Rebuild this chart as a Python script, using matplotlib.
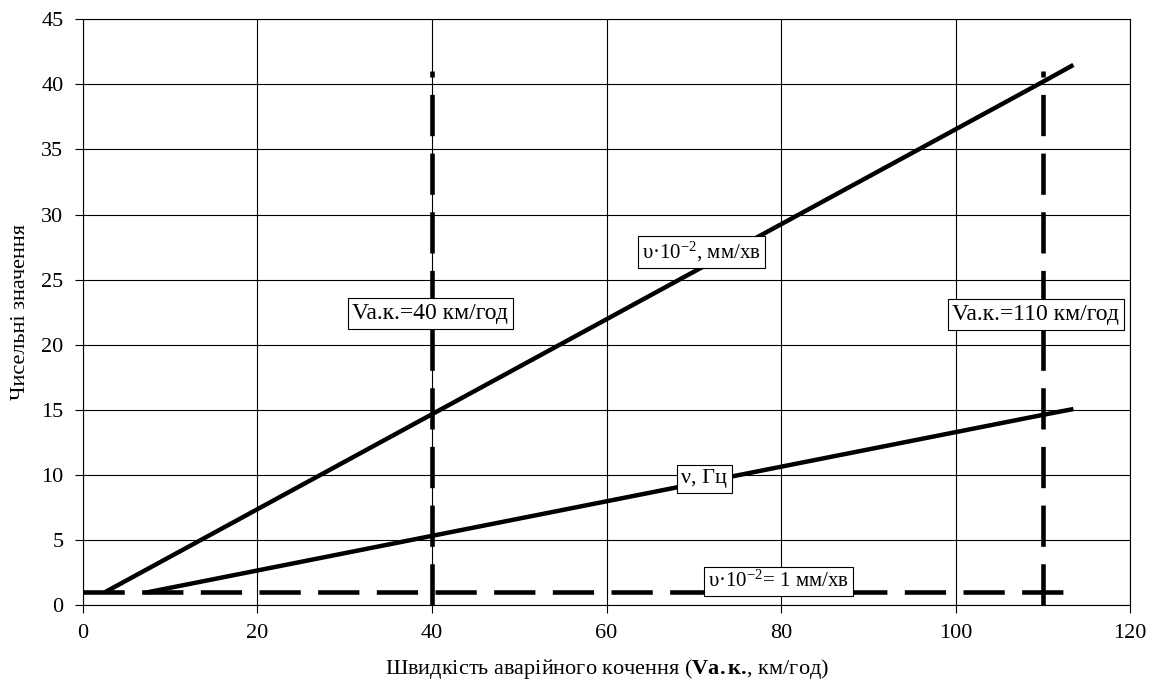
import matplotlib
matplotlib.use("Agg")
import matplotlib.pyplot as plt

plt.rcParams["font.family"] = ["Liberation Serif", "DejaVu Serif"]
plt.rcParams["mathtext.fontset"] = "custom"
plt.rcParams["mathtext.rm"] = "Liberation Serif"
plt.rcParams["mathtext.it"] = "Liberation Serif:italic"
plt.rcParams["mathtext.bf"] = "Liberation Serif:bold"

# speed of emergency rolling, km/h
speed_wear = [2.6, 40, 110, 113.5]
wear = [1.0, 14.65, 40.2, 41.5]         # υ·10^-2, mm/min
speed_freq = [7.3, 40, 110, 113.5]
freq = [0.95, 5.3, 14.6, 15.05]         # ν, Hz

limit_x = [0, 113.5]
limit_y = [1, 1]
marks = [40, 110]
mark_top = 41

fig, ax = plt.subplots(figsize=(11.52, 6.92), dpi=100)
fig.subplots_adjust(left=0.072, right=0.981, bottom=0.126, top=0.972)

dash = (0, (9, 3.8))
ax.plot(limit_x, limit_y, color="black", lw=3.3, linestyle=dash, zorder=3)
for m in marks:
    ax.plot([m, m], [0, mark_top], color="black", lw=3.3, linestyle=dash, zorder=3)
ax.plot(speed_wear, wear, color="black", lw=3.2, solid_capstyle="butt", zorder=3)
ax.plot(speed_freq, freq, color="black", lw=3.2, solid_capstyle="butt", zorder=3)

box = dict(boxstyle="square,pad=0.2", fc="white", ec="black", lw=0.8)
ax.text(70.9, 27.1, "υ·10$^{-2}$, мм/хв", ha="center", va="center", fontsize=15, bbox=box, zorder=5)
ax.text(39.8, 22.4, "Va.к.=40 км/год", ha="center", va="center", fontsize=17, bbox=box, zorder=5)
ax.text(109.2, 22.3, "Va.к.=110 км/год", ha="center", va="center", fontsize=17, bbox=box, zorder=5)
ax.text(71.2, 9.7, "ν, Гц", ha="center", va="center", fontsize=16, bbox=box, zorder=5)
ax.text(79.7, 1.8, "υ·10$^{-2}$= 1 мм/хв", ha="center", va="center", fontsize=15, bbox=box, zorder=5)

ax.set_xlim(0, 120)
ax.set_ylim(0, 45)
ax.set_xticks(range(0, 121, 20))
ax.set_yticks(range(0, 46, 5))
ax.grid(True, color="black", lw=0.8)
ax.set_axisbelow(True)
for s in ax.spines.values():
    s.set_linewidth(0.8)
ax.tick_params(direction="out", length=6, width=0.8, labelsize=16, pad=8)
ax.set_xlabel("Швидкість аварійного кочення ($\\mathbf{Va.к.}\\!$, км/год)", fontsize=16, labelpad=10)
ax.set_ylabel("Чисельні значення", fontsize=16, labelpad=8)

fig.savefig("out.png", dpi=100)
